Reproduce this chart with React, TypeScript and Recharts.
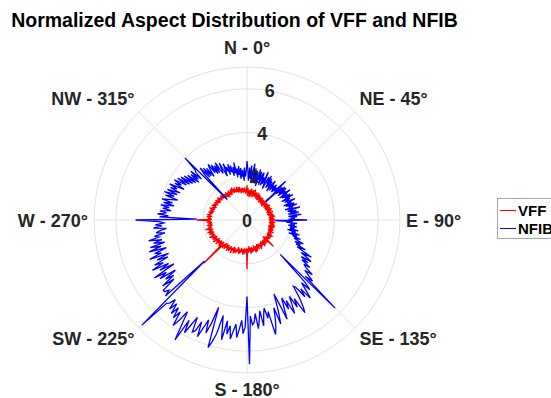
import { RadarChart, Radar, PolarGrid, PolarAngleAxis, PolarRadiusAxis, Legend } from 'recharts';

// one value per degree, 0 = north, clockwise
const nfib = [
  2.7, 2.3, 1.8, 2.4, 1.9, 2.5, 1.7, 2.2, 2.6, 1.8,
  2.4, 1.7, 2.3, 2.0, 1.6, 2.4, 1.9, 2.3, 1.7, 2.2,
  2.3, 1.7, 2.1, 1.8, 2.4, 1.9, 1.6, 2.2, 1.9, 2.3,
  1.7, 2.2, 1.8, 2.1, 1.6, 2.0, 2.2, 1.7, 2.0, 1.8,
  2.1, 1.7, 2.0, 1.8, 2.0, 2.5, 1.2, 2.2, 1.8, 2.3,
  1.9, 2.3, 1.8, 2.2, 2.0, 2.4, 1.8, 2.2, 1.9, 2.3,
  2.0, 2.4, 1.8, 2.2, 2.1, 1.9, 2.4, 2.0, 2.2, 1.8,
  2.3, 1.9, 2.4, 2.0, 2.2, 1.8, 2.5, 2.1, 1.9, 2.3,
  2.0, 2.4, 1.9, 2.2, 2.5, 1.9, 2.3, 2.0, 2.2, 1.9,
  2.75, 1.3, 2.1, 1.8, 2.3, 2.0, 2.2, 1.9, 2.3, 2.0,
  2.2, 2.0, 2.4, 1.9, 2.3, 2.1, 2.5, 2.0, 2.4, 2.2,
  2.6, 2.3, 2.5, 2.8, 2.4, 2.7, 2.5, 3.0, 2.6, 2.9,
  3.4, 2.9, 3.2, 3.5, 3.0, 3.4, 3.1, 3.6, 3.3, 3.5,
  3.9, 3.5, 3.8, 4.1, 3.7, 5.7, 2.2, 3.9, 4.3, 3.8,
  4.2, 4.6, 4.0, 4.4, 3.8, 3.7, 4.3, 4.7, 5.0, 4.2,
  4.6, 4.0, 4.4, 4.8, 4.1, 4.5, 3.9, 4.3, 4.9, 4.1,
  3.6, 4.4, 5.0, 4.2, 4.7, 5.1, 5.4, 4.3, 4.6, 4.1,
  4.4, 4.9, 4.2, 4.6, 5.0, 4.3, 4.7, 4.8, 4.4, 6.6,
  3.5, 4.9, 5.2, 4.6, 5.0, 5.4, 4.8, 5.1, 5.5, 4.9,
  5.3, 4.7, 5.6, 5.0, 4.5, 5.4, 5.8, 6.1, 4.2, 5.0,
  5.5, 4.9, 5.3, 5.8, 5.1, 5.6, 5.7, 5.0, 5.4, 5.9,
  5.3, 6.4, 5.6, 5.0, 5.5, 5.9, 5.2, 5.6, 5.1, 5.5,
  5.0, 5.4, 4.9, 5.2, 5.3, 6.8, 2.7, 5.1, 4.8, 5.0,
  5.0, 4.3, 4.9, 4.2, 4.6, 4.0, 4.8, 4.4, 5.0, 3.9,
  4.6, 4.1, 4.9, 4.3, 4.7, 4.0, 4.5, 3.9, 4.8, 4.2,
  4.5, 3.9, 4.7, 4.1, 4.6, 3.9, 4.4, 4.0, 4.6, 4.1,
  4.3, 3.8, 4.2, 4.0, 3.7, 4.3, 3.9, 4.2, 3.8, 4.0,
  5.1, 2.3, 4.0, 3.6, 4.1, 3.7, 4.0, 3.5, 3.9, 3.6,
  4.0, 3.4, 3.9, 3.5, 4.0, 3.6, 3.3, 3.9, 3.5, 4.0,
  3.4, 3.9, 3.3, 3.8, 3.5, 3.9, 3.2, 3.7, 3.4, 3.8,
  3.2, 3.7, 3.1, 3.6, 3.0, 3.5, 2.9, 3.4, 2.8, 3.3,
  2.9, 3.4, 2.8, 3.2, 3.3, 4.0, 1.3, 2.8, 3.2, 2.6,
  3.1, 2.6, 3.0, 2.5, 2.9, 3.1, 2.6, 3.0, 2.5, 2.9,
  2.5, 3.0, 2.6, 2.4, 2.9, 2.5, 2.2, 2.8, 2.4, 2.6,
  2.2, 2.7, 2.3, 2.6, 2.1, 2.5, 2.2, 2.7, 2.0, 2.4,
  2.1, 2.5, 1.9, 2.4, 2.0, 2.3, 1.8, 2.4, 2.0, 2.2,
];

const vff = [
  1.6, 1.1, 1.45, 1.2, 1.35, 1.05, 1.4, 1.25, 1.1, 1.45,
  1.2, 1.35, 1.05, 1.4, 1.15, 1.3, 1.45, 1.1, 1.3, 1.2,
  1.35, 1.05, 1.25, 1.1, 1.35, 1.0, 1.2, 1.3, 1.05, 1.25,
  1.05, 1.25, 0.95, 1.15, 1.2, 1.0, 1.25, 1.05, 1.15, 0.95,
  1.2, 1.05, 1.15, 0.95, 1.1, 1.4, 0.9, 1.2, 1.0, 1.15,
  1.0, 1.2, 1.05, 0.95, 1.2, 1.0, 1.1, 1.25, 0.95, 1.15,
  1.05, 1.2, 0.95, 1.15, 1.05, 1.25, 1.0, 1.1, 1.2, 0.95,
  1.15, 1.05, 1.25, 1.0, 1.15, 0.95, 1.2, 1.1, 1.0, 1.25,
  1.05, 1.15, 1.3, 1.0, 1.2, 1.05, 1.15, 1.25, 1.0, 1.1,
  1.3, 1.0, 1.2, 1.05, 1.15, 1.3, 1.0, 1.2, 1.1, 1.25,
  1.05, 1.2, 1.3, 1.05, 1.15, 1.3, 1.0, 1.25, 1.1, 1.2,
  1.05, 1.3, 1.15, 1.25, 1.05, 1.2, 1.35, 1.1, 1.25, 1.15,
  1.3, 1.1, 1.25, 1.4, 1.1, 1.2, 1.35, 1.15, 1.3, 1.2,
  1.35, 1.15, 1.3, 1.2, 1.1, 1.7, 1.05, 1.25, 1.4, 1.15,
  1.3, 1.2, 1.4, 1.15, 1.3, 1.45, 1.2, 1.35, 1.15, 1.3,
  1.4, 1.2, 1.3, 1.5, 1.25, 1.35, 1.2, 1.45, 1.3, 1.2,
  1.35, 1.5, 1.25, 1.4, 1.55, 1.3, 1.2, 1.45, 1.3, 1.4,
  1.5, 1.25, 1.4, 1.55, 1.3, 1.45, 1.2, 1.4, 1.5, 1.3,
  2.25, 1.3, 1.45, 1.35, 1.55, 1.3, 1.45, 1.6, 1.35, 1.5,
  1.4, 1.3, 1.55, 1.4, 1.6, 1.35, 1.5, 1.3, 1.55, 1.45,
  1.6, 1.4, 1.5, 1.65, 1.35, 1.55, 1.4, 1.7, 1.45, 1.55,
  1.4, 1.65, 1.5, 1.55, 1.7, 1.4, 1.6, 1.5, 1.45, 1.7,
  1.5, 1.45, 1.7, 1.55, 1.6, 2.8, 1.45, 1.6, 1.75, 1.5,
  1.7, 1.5, 1.6, 1.8, 1.55, 1.7, 1.5, 1.85, 1.6, 1.7,
  1.75, 1.55, 1.8, 1.6, 1.7, 1.9, 1.6, 1.75, 1.65, 1.85,
  1.6, 1.75, 1.9, 1.65, 1.8, 1.6, 1.75, 1.95, 1.65, 1.8,
  1.7, 1.65, 1.85, 1.6, 1.8, 1.7, 1.6, 1.85, 1.65, 1.75,
  2.3, 1.6, 1.8, 1.65, 1.75, 1.85, 1.6, 1.75, 1.8, 1.65,
  1.75, 1.6, 1.8, 1.65, 1.55, 1.75, 1.65, 1.6, 1.8, 1.55,
  1.7, 1.6, 1.5, 1.75, 1.55, 1.7, 1.6, 1.5, 1.7, 1.55,
  1.65, 1.5, 1.7, 1.55, 1.45, 1.65, 1.5, 1.7, 1.55, 1.45,
  1.6, 1.5, 1.65, 1.45, 1.55, 1.6, 1.35, 1.5, 1.6, 1.4,
  1.55, 1.35, 1.6, 1.45, 1.3, 1.55, 1.4, 1.6, 1.35, 1.45,
  1.4, 1.6, 1.45, 1.5, 1.65, 1.35, 1.55, 1.4, 1.6, 1.35,
  1.5, 1.35, 1.6, 1.4, 1.3, 1.55, 1.35, 1.55, 1.25, 1.45,
  1.35, 1.5, 1.25, 1.45, 1.3, 1.4, 1.5, 1.2, 1.4, 1.3,
];

const directionLabels = ['N - 0°', 'NE - 45°', 'E - 90°', 'SE - 135°', 'S - 180°', 'SW - 225°', 'W - 270°', 'NW - 315°'];
const radiusTicks = [0, 2, 4, 6];
const seriesNames = ['VFF', 'NFIB'];
const seriesColors = ['#ff0000', '#0000ff'];

const data = nfib.map((v, i) => ({ angle: i, vff: vff[i], nfib: v }));

const W = 551;
const H = 398;
const CX = 247;
const CY = 220;
const RMAX = 7;
const R = 153;
const UNIT = R / RMAX;
const FONT = '"Liberation Sans", Arial, Helvetica, sans-serif';
const TEXT = '#262626';

const AngleTick = ({ payload }: any) => {
  const deg = Number(payload.value);
  if (deg % 45 !== 0) return null;
  const rad = (deg * Math.PI) / 180;
  const sx = Math.sin(rad);
  const cy = Math.cos(rad);
  const pad = deg % 180 === 0 ? 10 : 6;
  const ax = CX + (R + pad) * sx;
  const ay = CY - (R + pad) * cy;
  const anchor = sx > 0.1 ? 'start' : sx < -0.1 ? 'end' : 'middle';
  const y = cy > 0.1 ? ay - 3 : cy < -0.1 ? ay + 13 : ay + 6.5;
  return (
    <text x={ax} y={y} textAnchor={anchor} fontSize={18} fontWeight="bold" fill={TEXT} fontFamily={FONT}>
      {directionLabels[deg / 45]}
    </text>
  );
};

const RadiusTick = ({ payload }: any) => {
  const v = Number(payload.value);
  if (!radiusTicks.includes(v)) return null;
  const a = (80 * Math.PI) / 180;
  const x = CX + v * UNIT * Math.cos(a);
  const y = CY - v * UNIT * Math.sin(a);
  return (
    <text x={x} y={y} dy={6.5} textAnchor="middle" fontSize={18} fontWeight="bold" fill={TEXT} fontFamily={FONT}>
      {v}
    </text>
  );
};

const LegendBox = () => (
  <div style={{ border: '1px solid #a6a6a6', background: '#fff', width: 70, height: 41, boxSizing: 'border-box', fontFamily: FONT, fontWeight: 'bold', fontSize: 15, color: '#000' }}>
    {seriesNames.map((name, i) => (
      <div key={name} style={{ display: 'flex', alignItems: 'center', height: 18, marginTop: i === 0 ? 2 : 0 }}>
        <span style={{ display: 'inline-block', width: 16, height: 0, borderTop: `1.3px solid ${seriesColors[i]}`, marginLeft: 2, marginRight: 2 }} />
        <span>{name}</span>
      </div>
    ))}
  </div>
);

export default function App() {
  return (
    <div style={{ position: 'absolute', left: 0, top: 0, width: W, height: H, overflow: 'hidden', background: '#fff' }}>
      <div style={{ position: 'absolute', left: 0, top: 8, width: 469, textAlign: 'center', fontFamily: FONT, fontWeight: 'bold', fontSize: 19.5, color: '#000', lineHeight: '24px' }}>
        Normalized Aspect Distribution of VFF and NFIB
      </div>
      <RadarChart
        width={W}
        height={H}
        data={data}
        cx={CX}
        cy={CY}
        outerRadius={R}
        startAngle={90}
        endAngle={-270}
        margin={{ top: 0, right: 0, bottom: 0, left: 0 }}
      >
        <PolarGrid
          gridType="circle"
          polarAngles={[0, 45, 90, 135, 180, 225, 270, 315]}
          polarRadius={[2, 4, 6, 7].map((v) => v * UNIT)}
          stroke="#e2e2e2"
        />
        <PolarAngleAxis dataKey="angle" type="category" axisLine={false} tickLine={false} tick={<AngleTick />} />
        <PolarRadiusAxis angle={80} type="number" domain={[0, RMAX]} tickCount={8} allowDataOverflow axisLine={false} tickLine={false} tick={<RadiusTick />} />
        <Radar name="VFF" dataKey="vff" stroke={seriesColors[0]} strokeWidth={1.3} fill="none" fillOpacity={0} dot={false} isAnimationActive={false} />
        <Radar name="NFIB" dataKey="nfib" stroke={seriesColors[1]} strokeWidth={1.3} fill="none" fillOpacity={0} dot={false} isAnimationActive={false} />
        <Legend content={<LegendBox />} wrapperStyle={{ position: 'absolute', left: 497, top: 198, width: 70 }} />
      </RadarChart>
    </div>
  );
}
